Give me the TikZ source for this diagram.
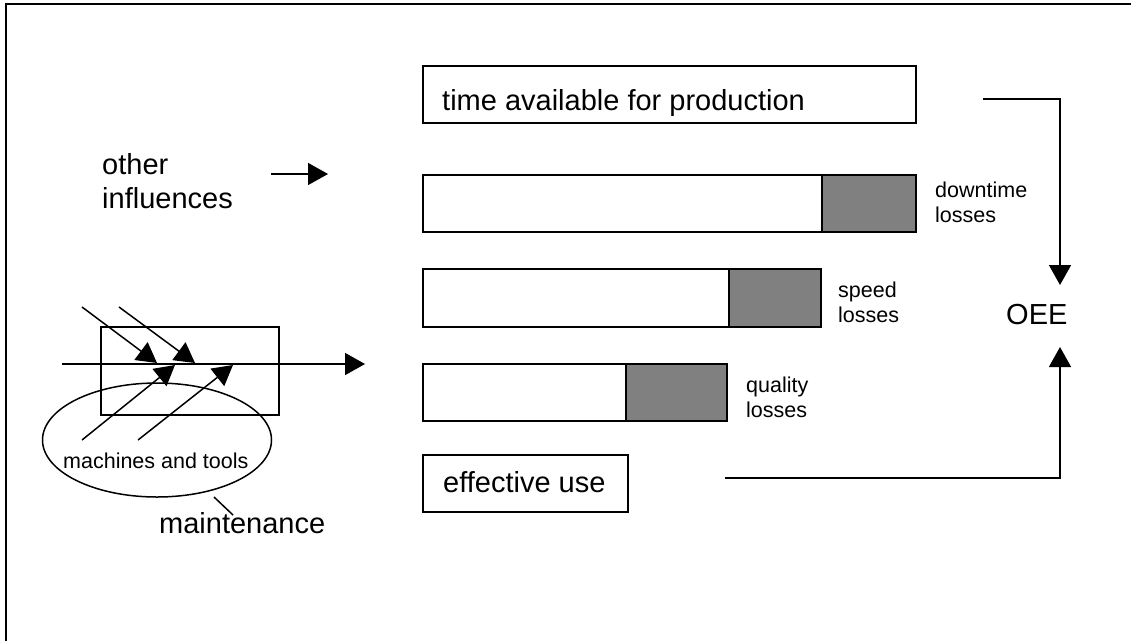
\documentclass[tikz,border=0pt]{standalone}
\usepackage{fontspec}
\setmainfont{Liberation Sans}
\usetikzlibrary{arrows.meta,shapes.geometric}
\begin{document}
\begin{tikzpicture}[x=1pt,y=-1pt,
  line join=miter,
  frame/.style={line width=2pt},
  box/.style={draw,line width=1.5pt,inner sep=0pt,outer sep=0pt,anchor=north west},
  bar/.style={box,fill=white},
  loss/.style={box,fill=black!50},
  big/.style={font=\fontsize{29}{34}\selectfont,inner sep=0pt,anchor=base west,align=left},
  small/.style={font=\fontsize{21.5}{25}\selectfont,inner sep=0pt,anchor=base west,align=left},
  arr/.style={line width=1.5pt,-{Triangle[length=20pt,width=22pt]}},
  plain/.style={line width=1.5pt}]
\useasboundingbox (0,0) rectangle (1131,641);
\fill[white] (0,0) rectangle (1131,641);

% outer frame (left and top edges)
\draw[frame] (6,641) -- (6,4) -- (1131,4);

% time available
\node[box,minimum width=493pt,minimum height=57pt] (avail) at (423,66) {};
\node[big] (availtxt) at (442,110) {time available for production};

% downtime bar (base anchor of a two-line label sits on its last line)
\node[bar,minimum width=399pt,minimum height=57pt] (dbar) at (423,175) {};
\node[loss,minimum width=94pt,minimum height=57pt] (dloss) at (822,175) {};
\node[small] (dtxt) at (935,222) {downtime\\losses};

% speed bar
\node[bar,minimum width=306pt,minimum height=58pt] (sbar) at (423,269) {};
\node[loss,minimum width=92pt,minimum height=58pt] (sloss) at (729,269) {};
\node[small] (stxt) at (838,322) {speed\\losses};

% quality bar
\node[bar,minimum width=203pt,minimum height=57pt] (qbar) at (423,364) {};
\node[loss,minimum width=101pt,minimum height=57pt] (qloss) at (626,364) {};
\node[small] (qtxt) at (746,417) {quality\\losses};

% effective use
\node[box,minimum width=205pt,minimum height=57pt] (eff) at (423,455) {};
\node[big] (efftxt) at (443,492) {effective use};

% OEE
\node[big] (oee) at (1006,324) {OEE};
\coordinate (oeetop) at (1060,285);
\coordinate (oeebot) at (1060,347);
\coordinate (fromavail) at (983,99);
\coordinate (fromeff) at (725,478);
\draw[arr] (fromavail) -| (oeetop);
\draw[arr] (fromeff) -| (oeebot);

% other influences
\node[big] (other) at (102,208) {other\\influences};
\coordinate (oiA) at (271,174);
\coordinate (oiB) at (328,174);
\draw[arr] (oiA) -- (oiB);

% machines and tools / maintenance
\node[box,minimum width=178pt,minimum height=88pt] (proc) at (101,327) {};
\node[draw,ellipse,line width=1.5pt,minimum width=229pt,minimum height=114pt,inner sep=0pt] (mt) at (157,440) {};
\node[small] (mttxt) at (63,468) {machines and tools};
\node[big] (maint) at (159,533) {maintenance};
\coordinate (leadA) at (214,497);
\coordinate (leadB) at (233,515);
\draw[plain] (leadA) -- (leadB);

% main flow through the process
\coordinate (flowA) at (62,364);
\coordinate (flowB) at (365,364);
\draw[arr] (flowA) -- (flowB);

% influences on the process
\coordinate (d1a) at (82,307);  \coordinate (d1b) at (157,363);
\coordinate (d2a) at (119,307); \coordinate (d2b) at (195,363);
\coordinate (u1a) at (82,440);  \coordinate (u1b) at (175,365);
\coordinate (u2a) at (138,440); \coordinate (u2b) at (233,365);
\draw[arr] (d1a) -- (d1b);
\draw[arr] (d2a) -- (d2b);
\draw[arr] (u1a) -- (u1b);
\draw[arr] (u2a) -- (u2b);
\end{tikzpicture}
\end{document}
